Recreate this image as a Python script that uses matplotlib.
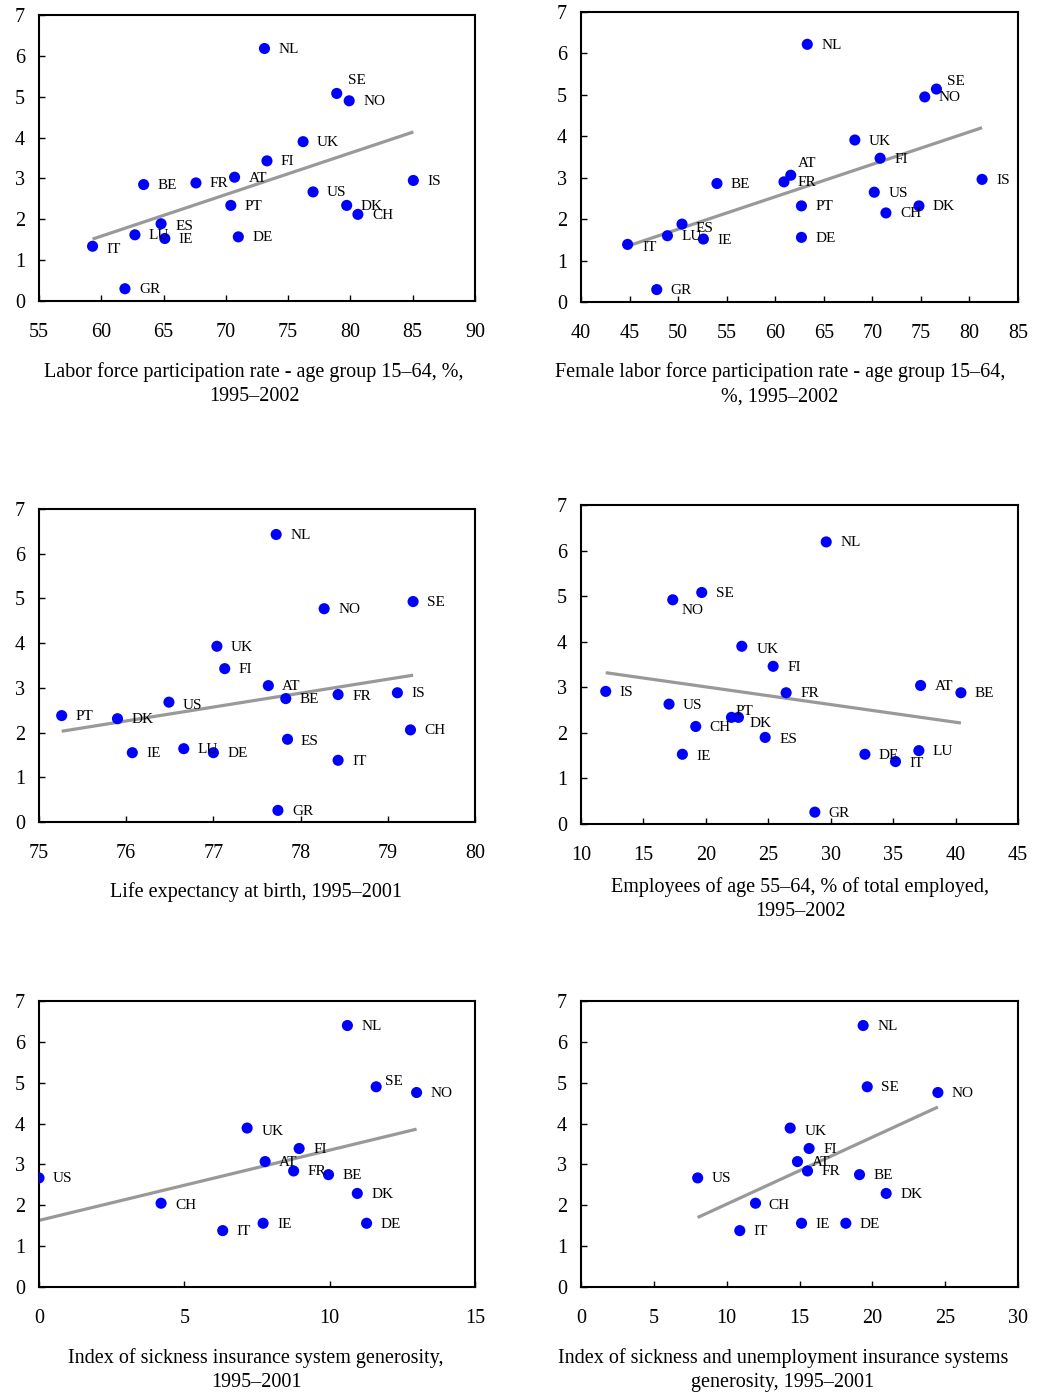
import matplotlib
matplotlib.use("Agg")
import matplotlib.pyplot as plt
import numpy as np

plt.rcParams["font.family"] = ["Liberation Serif", "DejaVu Serif"]

# Labour force participation, 15-64 (top left)
lfp_countries = ["NL", "SE", "NO", "UK", "FI", "AT", "BE", "FR", "IS", "US",
                 "PT", "DK", "CH", "ES", "LU", "IE", "DE", "IT", "GR"]
lfp_x = [73.1, 78.9, 79.9, 76.2, 73.3, 70.7, 63.4, 67.6, 85.05, 77.0,
         70.4, 79.7, 80.6, 64.8, 62.7, 65.1, 71.0, 59.3, 61.9]
lfp_y = [6.18, 5.08, 4.90, 3.90, 3.43, 3.03, 2.85, 2.89, 2.95, 2.67,
         2.34, 2.34, 2.12, 1.89, 1.62, 1.53, 1.57, 1.34, 0.30]
lfp_fit = [-4.521, 0.1018]

# Female labour force participation (top right)
flfp_countries = ["NL", "SE", "NO", "UK", "FI", "AT", "FR", "BE", "IS", "US",
                  "PT", "DK", "CH", "ES", "LU", "IE", "DE", "IT", "GR"]
flfp_x = [63.3, 76.6, 75.4, 68.2, 70.8, 61.6, 60.9, 54.0, 81.3, 70.2,
          62.7, 74.8, 71.4, 50.4, 48.9, 52.6, 62.7, 44.8, 47.8]
flfp_y = [6.22, 5.14, 4.95, 3.91, 3.47, 3.06, 2.90, 2.86, 2.96, 2.65,
          2.32, 2.32, 2.15, 1.88, 1.60, 1.52, 1.56, 1.39, 0.30]
flfp_fit = [-2.158, 0.0783]

# Life expectancy at birth (middle left)
life_countries = ["NL", "SE", "NO", "UK", "FI", "AT", "BE", "FR", "IS", "US",
                  "PT", "DK", "CH", "ES", "LU", "IE", "DE", "IT", "GR"]
life_x = [77.72, 79.29, 78.27, 77.04, 77.13, 77.63, 77.83, 78.43, 79.11, 76.49,
          75.26, 75.90, 79.26, 77.85, 76.66, 76.07, 77.0, 78.43, 77.74]
life_y = [6.43, 4.93, 4.77, 3.93, 3.43, 3.05, 2.76, 2.85, 2.89, 2.68,
          2.38, 2.31, 2.06, 1.85, 1.64, 1.55, 1.55, 1.38, 0.26]
life_fit = [-21.376, 0.311]

# Employees aged 55-64 (middle right)
older_countries = ["NL", "SE", "NO", "UK", "FI", "AT", "BE", "FR", "IS", "US",
                   "PT", "DK", "CH", "ES", "IE", "DE", "IT", "LU", "GR"]
older_x = [29.64, 19.67, 17.35, 22.88, 25.39, 37.2, 40.43, 26.43, 11.98, 17.05,
           22.05, 22.61, 19.19, 24.75, 18.12, 32.74, 35.19, 37.06, 28.73]
older_y = [6.19, 5.08, 4.92, 3.90, 3.46, 3.04, 2.88, 2.88, 2.91, 2.63,
           2.34, 2.34, 2.14, 1.90, 1.53, 1.53, 1.37, 1.61, 0.26]
older_fit = [3.785, -0.0388]

# Sickness insurance generosity (bottom left)
sick_countries = ["NL", "SE", "NO", "UK", "FI", "AT", "FR", "BE", "DK", "US",
                  "CH", "IT", "IE", "DE"]
sick_x = [10.61, 11.60, 12.99, 7.16, 8.95, 7.78, 8.76, 9.96, 10.95, 0.0,
          4.20, 6.32, 7.71, 11.27]
sick_y = [6.40, 4.90, 4.76, 3.89, 3.39, 3.07, 2.84, 2.75, 2.29, 2.67,
          2.05, 1.38, 1.56, 1.56]
sick_fit = [1.63, 0.172]

# Sickness and unemployment insurance generosity (bottom right)
sickunemp_countries = ["NL", "SE", "NO", "UK", "FI", "AT", "FR", "BE", "DK", "US",
                       "CH", "IT", "IE", "DE"]
sickunemp_x = [19.37, 19.65, 24.50, 14.36, 15.66, 14.86, 15.55, 19.12, 20.95, 8.01,
               11.98, 10.90, 15.14, 18.18]
sickunemp_y = [6.40, 4.90, 4.76, 3.89, 3.39, 3.07, 2.84, 2.75, 2.29, 2.67,
               2.05, 1.38, 1.56, 1.56]
sickunemp_fit = [0.389, 0.1639]

W, H = 1040, 1397

# axes boxes in pixels: left, right, top, bottom
PANELS = [
    dict(countries=lfp_countries, x=lfp_x, y=lfp_y, fit=lfp_fit,
         box=(39, 475, 15, 301), xlim=(55, 90), xstep=5,
         label="Labor force participation rate - age group 15\u201364, %,\n1995\u20132002",
         label_pos=(254, 384),
         offsets={"SE": (11, -13), "ES": (14, 3), "IT": (14, 3)}),
    dict(countries=flfp_countries, x=flfp_x, y=flfp_y, fit=flfp_fit,
         box=(581, 1018, 12, 302), xlim=(40, 85), xstep=5,
         label="Female labor force participation rate - age group 15\u201364,\n%, 1995\u20132002",
         label_pos=(780, 384),
         offsets={"SE": (11, -8), "AT": (7, -12), "ES": (14, 4), "IT": (15, 3)}),
    dict(countries=life_countries, x=life_x, y=life_y, fit=life_fit,
         box=(39, 475, 509, 822), xlim=(75, 80), xstep=1,
         label="Life expectancy at birth, 1995\u20132001",
         label_pos=(256, 892),
         offsets={"US": (14, 3), "FR": (14, 2), "ES": (13, 2)}),
    dict(countries=older_countries, x=older_x, y=older_y, fit=older_fit,
         box=(581, 1018, 505, 824), xlim=(10, 45), xstep=5,
         label="Employees of age 55\u201364, % of total employed,\n1995\u20132002",
         label_pos=(800, 899),
         offsets={"NO": (9, 11), "PT": (4, -6), "DK": (11, 6), "UK": (15, 3),
                  "ES": (14, 2), "IE": (14, 2), "IT": (14, 2)}),
    dict(countries=sick_countries, x=sick_x, y=sick_y, fit=sick_fit,
         box=(39, 475, 1001, 1287), xlim=(0, 15), xstep=5,
         label="Index of sickness insurance system generosity,\n1995\u20132001",
         label_pos=(256, 1370),
         offsets={"SE": (9, -5), "UK": (15, 3), "CH": (14, 2)}),
    dict(countries=sickunemp_countries, x=sickunemp_x, y=sickunemp_y, fit=sickunemp_fit,
         box=(581, 1018, 1001, 1287), xlim=(0, 30), xstep=5,
         label="Index of sickness and unemployment insurance systems\ngenerosity, 1995\u20132001",
         label_pos=(783, 1370),
         offsets={"UK": (14, 3), "CH": (13, 2)}),
]

fig = plt.figure(figsize=(W / 100, H / 100), dpi=100)

for p in PANELS:
    l, r, t, b = p["box"]
    ax = fig.add_axes([l / W, 1 - b / H, (r - l) / W, (b - t) / H])
    x = np.array(p["x"])
    y = np.array(p["y"])

    intercept, slope = p["fit"]
    xs = np.array([x.min(), x.max()])
    ax.plot(xs, intercept + slope * xs, color="#999999", linewidth=2.3,
            solid_capstyle="butt", zorder=2)
    ax.scatter(x, y, s=64, color="#0000FF", edgecolors="none", zorder=3)

    for name, xi, yi in zip(p["countries"], x, y):
        dx, dy = p["offsets"].get(name, (14, 1))
        ax.annotate(name, (xi, yi), xytext=(dx, -dy), textcoords="offset pixels",
                    ha="left", va="center", fontsize=11, zorder=4)

    ax.set_xlim(*p["xlim"])
    ax.set_ylim(0, 7)
    ax.set_xticks(np.arange(p["xlim"][0], p["xlim"][1] + 0.01, p["xstep"]))
    ax.set_yticks(range(0, 8))
    ax.tick_params(axis="both", direction="in", length=4, width=1,
                   labelsize=14.5, color="black")
    ax.tick_params(axis="x", pad=16)
    ax.tick_params(axis="y", pad=10)
    for sp in ax.spines.values():
        sp.set_linewidth(1.5)
        sp.set_color("black")

    cx, cy = p["label_pos"]
    fig.text(cx / W, 1 - cy / H, p["label"], ha="center", va="center",
             fontsize=14.5, linespacing=1.42)

fig.savefig("out.png", dpi=100)
